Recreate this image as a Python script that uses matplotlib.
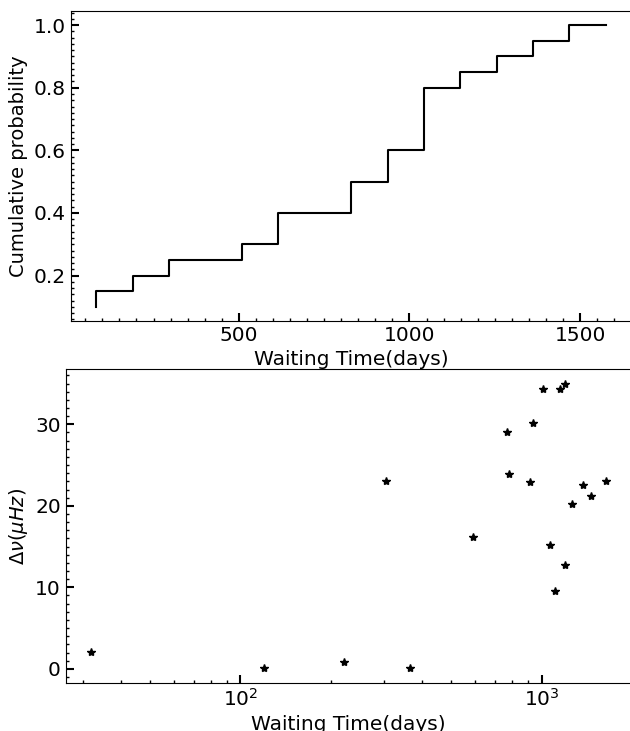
import matplotlib
matplotlib.use('Agg')
import matplotlib.pyplot as plt
from matplotlib.ticker import AutoMinorLocator

# cumulative distribution of waiting times (step edges, days)
edges = [82, 189, 296, 402, 509, 616, 722, 829, 936, 1042, 1149, 1256, 1362, 1469, 1576]
cum_prob = [0.10, 0.15, 0.20, 0.25, 0.25, 0.30, 0.40, 0.40, 0.50, 0.60, 0.80, 0.85, 0.90, 0.95, 1.00]

# waiting time vs frequency change
wait_time = [32.0, 120, 221, 305, 367, 591, 768, 781, 915, 938,
             1011, 1069, 1105, 1152, 1198, 1194, 1262, 1372, 1454, 1634]
dnu = [2.1, 0.15, 0.85, 23.0, 0.05, 16.2, 29.0, 23.9, 22.9, 30.2,
       34.3, 15.2, 9.6, 34.3, 12.75, 35.0, 20.2, 22.5, 21.2, 23.0]

fig = plt.figure(figsize=(6.3, 7.31), dpi=100)
ax1 = fig.add_axes([70.7/630, 1-321/731, (631.5-70.7)/630, 310/731])
ax2 = fig.add_axes([65.7/630, 1-682.7/731, (631.5-65.7)/630, 313.4/731])

ax1.step(edges, cum_prob, where='pre', color='black', lw=1.5)
ax1.set_xlabel('Waiting Time(days)', fontsize=14.5, labelpad=4)
ax1.set_ylabel('Cumulative probability', fontsize=14)
ax1.set_xticks([500, 1000, 1500])
ax1.set_yticks([0.2, 0.4, 0.6, 0.8, 1.0])
ax1.xaxis.set_minor_locator(AutoMinorLocator(10))
ax1.yaxis.set_minor_locator(AutoMinorLocator(10))

ax2.plot(wait_time, dnu, '*', color='black', ms=6)
ax2.set_xscale('log')
ax2.set_xlabel('Waiting Time(days)', fontsize=14.5, labelpad=4)
ax2.set_ylabel(r'$\Delta\nu(\mu Hz)$', fontsize=14)
ax2.set_yticks([0, 10, 20, 30])
ax2.yaxis.set_minor_locator(AutoMinorLocator(10))

for ax in (ax1, ax2):
    ax.tick_params(which='major', direction='in', length=6, width=1.5, labelsize=14.5)
    ax.tick_params(which='minor', direction='in', length=2.5, width=1)
    ax.spines['right'].set_visible(False)

fig.savefig('out.png', dpi=100)
